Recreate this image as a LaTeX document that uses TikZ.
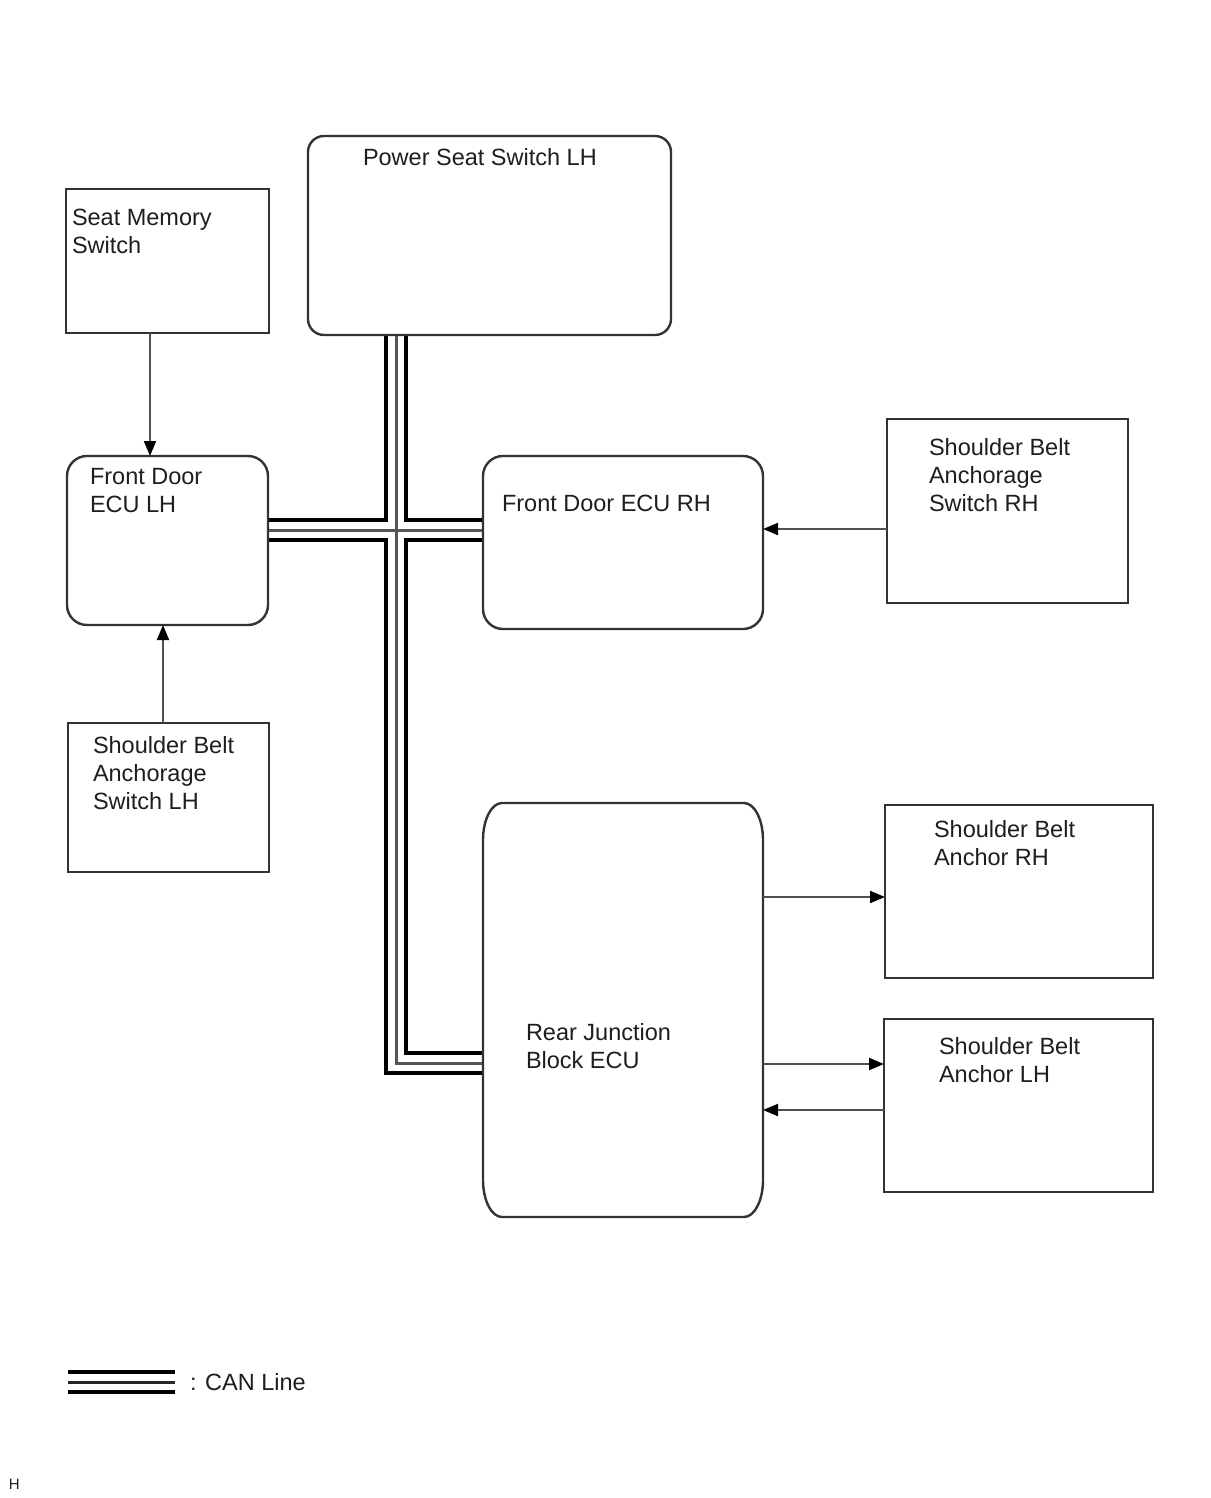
\documentclass[tikz,border=0pt]{standalone}
\usepackage{fontspec}
\setmainfont{Liberation Sans}
\usetikzlibrary{arrows.meta,backgrounds}
\definecolor{bd}{HTML}{333333}
\definecolor{ln}{HTML}{505050}
\definecolor{tx}{HTML}{1E1E1E}
\definecolor{mid}{HTML}{555555}
\tikzset{
  sq/.style={draw=bd, line width=1.2pt, inner sep=0pt, outer sep=0pt, anchor=north west},
  rd/.style={sq, rounded corners=10pt},
  lbl/.style={anchor=base west, align=left, inner sep=0pt, outer sep=0pt, font=\fontsize{11.75}{14}\selectfont, text=tx},
  arr/.style={draw=ln, line width=1pt, -{Triangle[length=7.5pt,width=6pt,color=black]}},
  canA/.style={line width=12.25pt, black, line join=miter},
  canB/.style={line width=8.25pt, white, line join=miter},
  canC/.style={line width=1.5pt, mid, line join=miter},
  legC/.style={line width=1.5pt, black!85},
}
\begin{document}
\begin{tikzpicture}[x=0.5pt,y=-0.5pt]
\useasboundingbox (0,0) rectangle (1210,1498);

% boxes
\node[sq, minimum width=101.5pt, minimum height=72pt] (sms) at (66,189) {};
\node[rd, rounded corners=8pt, minimum width=181.5pt, minimum height=99.5pt] (pss) at (308,136) {};
\node[rd, minimum width=100.5pt, minimum height=84.5pt] (fdl) at (67,456) {};
\node[rd, minimum width=140pt, minimum height=86.5pt] (fdr) at (483,456) {};
\node[sq, minimum width=120.5pt, minimum height=92pt] (sbasr) at (887,419) {};
\node[sq, minimum width=100.5pt, minimum height=74.5pt] (sbasl) at (68,723) {};
\node[sq, draw=none, minimum width=140pt, minimum height=207pt] (rjb) at (483,803) {};
\node[sq, minimum width=134pt, minimum height=86.5pt] (sbar) at (885,805) {};
\node[sq, minimum width=134.5pt, minimum height=86.5pt] (sbal) at (884,1019) {};

% rear junction block outline (elliptical corners)
\draw[bd, line width=1.2pt] (502,803) -- (744,803)
  arc[start angle=-90, end angle=0, x radius=19, y radius=37] -- (763,1180)
  arc[start angle=0, end angle=90, x radius=19, y radius=37] -- (502,1217)
  arc[start angle=90, end angle=180, x radius=19, y radius=37] -- (483,840)
  arc[start angle=180, end angle=270, x radius=19, y radius=37] -- cycle;

% labels (base anchor = baseline of last line)
\node[lbl] (t1) at (72,254) {Seat Memory\\Switch};
\node[lbl] (t2) at (363,166) {Power Seat Switch LH};
\node[lbl] (t3) at (90,512) {Front Door\\ECU LH};
\node[lbl] (t4) at (502,511) {Front Door ECU RH};
\node[lbl] (t5) at (929,511) {Shoulder Belt\\Anchorage\\Switch RH};
\node[lbl] (t6) at (93,809) {Shoulder Belt\\Anchorage\\Switch LH};
\node[lbl] (t7) at (526,1068) {Rear Junction\\Block ECU};
\node[lbl] (t8) at (934,865) {Shoulder Belt\\Anchor RH};
\node[lbl] (t9) at (939,1082) {Shoulder Belt\\Anchor LH};
\node[lbl] (t10) at (190,1390) {: CAN Line};
\node[lbl, font=\fontsize{7.5}{9}\selectfont] (t11) at (9,1489) {H};

% helper coordinates
\coordinate (j) at (396,530);
\coordinate (jb) at (396,1063);
\coordinate (a1) at (150,0);
\coordinate (a2) at (163,0);
\coordinate (a3) at (0,529);
\coordinate (a4) at (0,897);
\coordinate (a5) at (0,1064);
\coordinate (a6) at (0,1110);
\coordinate (l1) at (68,1382);
\coordinate (l2) at (175,1382);

% CAN bus
\begin{scope}[on background layer]
  \fill[white] (0,0) rectangle (1210,1498);
  \foreach \s in {canA,canB,canC}{
    \draw[\s] (pss.south -| jb) -- (jb) -- (jb -| rjb.west);
    \draw[\s] (fdl.east |- j) -- (j -| fdr.west);
  }
  \draw[canA] (l1) -- (l2);
  \draw[canB] (l1) -- (l2);
  \draw[legC] (l1) -- (l2);
\end{scope}

% arrows
\draw[arr] (sms.south -| a1) -- (fdl.north -| a1);
\draw[arr] (sbasl.north -| a2) -- (fdl.south -| a2);
\draw[arr] (sbasr.west |- a3) -- (fdr.east |- a3);
\draw[arr] (rjb.east |- a4) -- (sbar.west |- a4);
\draw[arr] (rjb.east |- a5) -- (sbal.west |- a5);
\draw[arr] (sbal.west |- a6) -- (rjb.east |- a6);
\end{tikzpicture}
\end{document}
